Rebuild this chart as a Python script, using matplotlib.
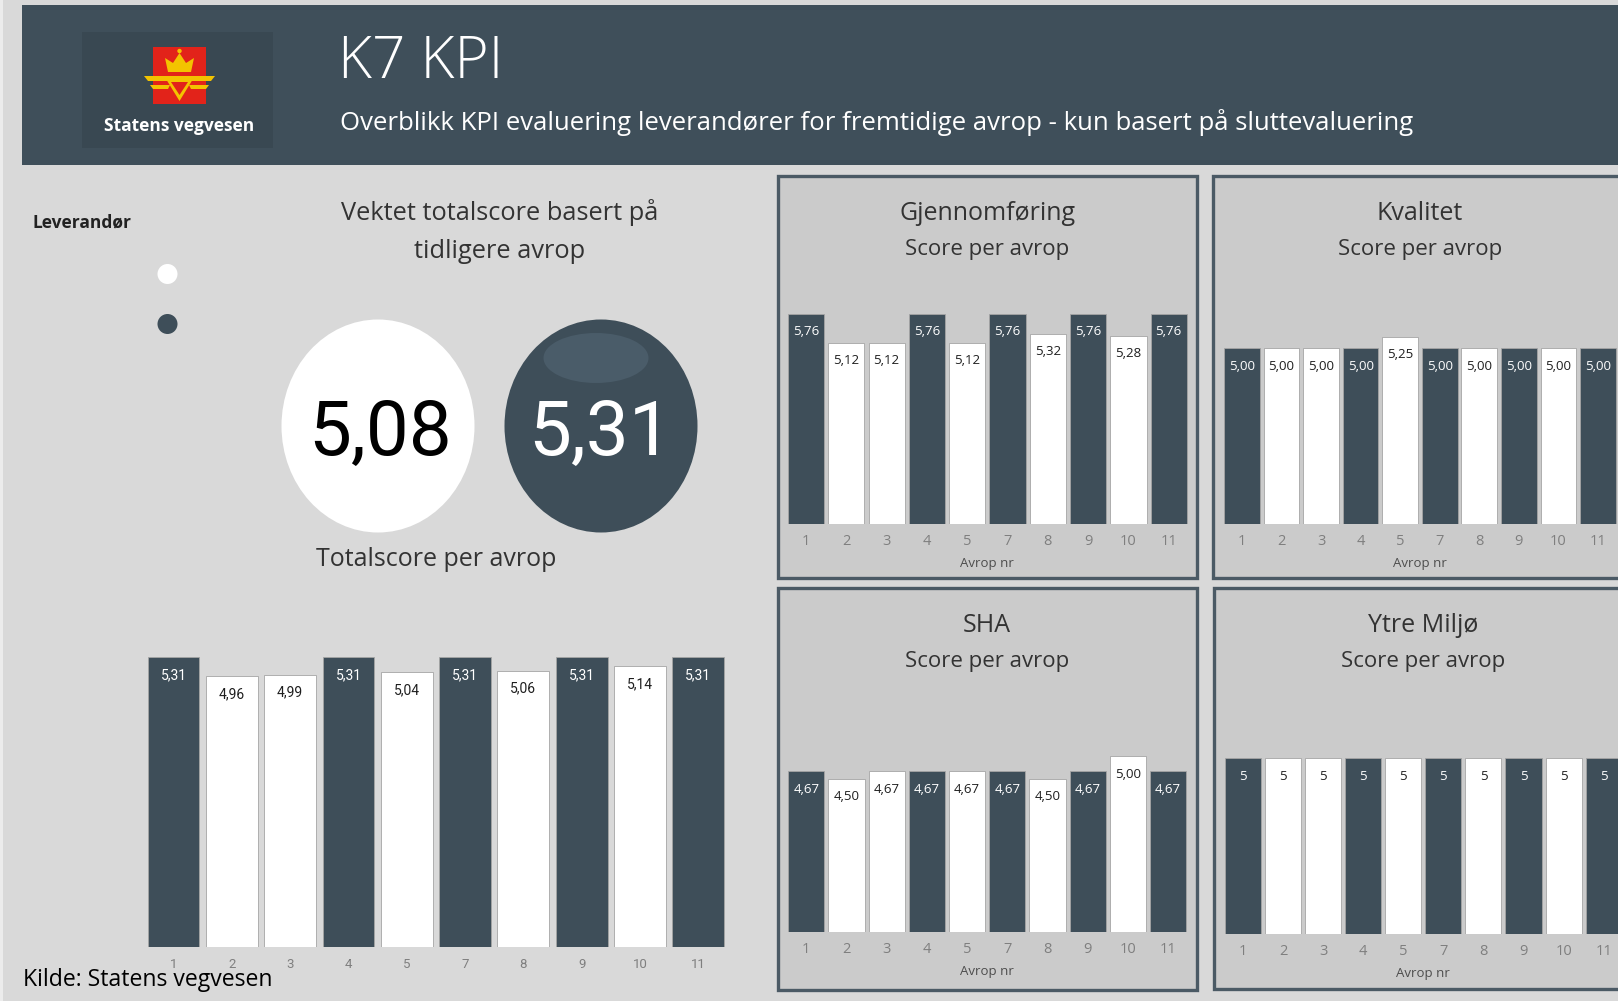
import matplotlib.pyplot as plt
from matplotlib.patches import Circle, Ellipse, Polygon, Rectangle

W, H = 1618, 1001

AVROP = ["1", "2", "3", "4", "5", "7", "8", "9", "10", "11"]
# 1 = mørk leverandør, 0 = hvit leverandør
LEVERANDOR = [1, 0, 0, 1, 0, 1, 0, 1, 0, 1]
TOTALSCORE = [5.31, 4.96, 4.99, 5.31, 5.04, 5.31, 5.06, 5.31, 5.14, 5.31]
GJENNOMFORING = [5.76, 5.12, 5.12, 5.76, 5.12, 5.76, 5.32, 5.76, 5.28, 5.76]
KVALITET = [5.00, 5.00, 5.00, 5.00, 5.25, 5.00, 5.00, 5.00, 5.00, 5.00]
SHA = [4.67, 4.50, 4.67, 4.67, 4.67, 4.67, 4.50, 4.67, 5.00, 4.67]
YTRE_MILJO = [5, 5, 5, 5, 5, 5, 5, 5, 5, 5]
VEKTET = [5.08, 5.31]

BG = "#d9d9d9"
PANEL_BG = "#cbcbcb"
DARK = "#3e4e59"
FRAME = "#4b5a65"
TITLE_C = "#333333"
UI_FONT = ["Open Sans", "DejaVu Sans"]
NARROW = ["Liberation Sans Narrow", "Roboto", "DejaVu Sans"]


def nor(v, dec):
    return f"{v:.{dec}f}".replace(".", ",")


def px_axes(fig, x0, y0, x1, y1):
    return fig.add_axes([x0 / W, 1 - y1 / H, (x1 - x0) / W, (y1 - y0) / H])


def draw_bars(ax, values, dec, ybase, px_unit, h_px, lab_font, lab_size,
              tick_font, tick_size, width, pad):
    x = list(range(len(values)))
    colors = [DARK if s else "white" for s in LEVERANDOR]
    ax.bar(x, values, width=width, color=colors, edgecolor="#a5a5a5",
           linewidth=0.6, zorder=2)
    ax.set_xlim(-0.5, len(values) - 0.5)
    ax.set_ylim(ybase, ybase + h_px / px_unit)
    for xi, v, s in zip(x, values, LEVERANDOR):
        ax.annotate(nor(v, dec), (xi, v), xytext=(0, -13),
                    textcoords="offset points", ha="center", va="center",
                    color="white" if s else "#1e1e1e", fontsize=lab_size,
                    family=lab_font, zorder=3)
    ax.set_xticks(x, AVROP, family=tick_font)
    ax.tick_params(axis="x", length=0, pad=pad, labelsize=tick_size,
                   labelcolor="#7f7f7f")
    ax.set_yticks([])
    for sp in ax.spines.values():
        sp.set_visible(False)
    ax.patch.set_alpha(0)


def draw_logo(bg):
    bg.add_patch(Rectangle((82, 32), 191, 116, fc="#394852", ec="none"))
    bg.add_patch(Rectangle((153, 47), 53, 57, fc="#e2231a", ec="none"))
    gold = "#f3c300"
    # krone
    bg.add_patch(Polygon([(168, 72), (191, 72), (194, 58), (186, 63),
                          (179.5, 53), (173, 63), (165, 58)], fc=gold, ec="none"))
    bg.add_patch(Circle((179.5, 51), 2.2, fc=gold, ec="none"))
    # vinger
    bg.add_patch(Polygon([(144, 76), (215, 76), (211, 81), (148, 81)],
                         fc=gold, ec="none"))
    bg.add_patch(Polygon([(150, 85), (170, 85), (168, 89), (153, 89)],
                         fc=gold, ec="none"))
    bg.add_patch(Polygon([(189, 85), (209, 85), (206, 89), (191, 89)],
                         fc=gold, ec="none"))
    # trekant
    bg.add_patch(Polygon([(166, 79), (193, 79), (179.5, 101)], fc=gold, ec="none"))
    bg.add_patch(Polygon([(171, 82), (188, 82), (179.5, 95)], fc="#e2231a", ec="none"))
    bg.text(179, 126, "Statens vegvesen", color="white", fontsize=12.5,
            fontweight="bold", family=UI_FONT, ha="center", va="center")


def main():
    fig = plt.figure(figsize=(W / 100, H / 100), dpi=100, facecolor=BG)

    bg = fig.add_axes([0, 0, 1, 1])
    bg.set_xlim(0, W)
    bg.set_ylim(H, 0)
    bg.axis("off")
    bg.add_patch(Rectangle((0, 0), 3, H, fc="#ececec", ec="none"))

    # topptekst
    bg.add_patch(Rectangle((22, 5), W, 160, fc="#3f4f5a", ec="none"))
    draw_logo(bg)
    bg.text(338, 62, "K7 KPI", color="white", fontsize=42, fontweight="light",
            family=UI_FONT, ha="left", va="center")
    bg.text(340, 122,
            "Overblikk KPI evaluering leverandører for fremtidige avrop - kun basert på sluttevaluering",
            color="white", fontsize=18.5, family=UI_FONT, ha="left", va="center")

    # leverandør-forklaring
    bg.text(32, 222, "Leverandør", color="#222222", fontsize=12.5,
            fontweight="bold", family=UI_FONT, ha="left", va="center")
    bg.add_patch(Circle((167.5, 274), 10, fc="white", ec="none"))
    bg.add_patch(Circle((167.5, 324), 10, fc=DARK, ec="none"))

    # vektet totalscore
    bg.text(500, 212, "Vektet totalscore basert på", color=TITLE_C,
            fontsize=18.3, family=UI_FONT, ha="center", va="center")
    bg.text(500, 251, "tidligere avrop", color=TITLE_C,
            fontsize=18.3, family=UI_FONT, ha="center", va="center")
    bg.add_patch(Ellipse((378, 426), 193, 213, fc="white", ec="none"))
    bg.add_patch(Ellipse((601, 426), 193, 213, fc=DARK, ec="none"))
    bg.add_patch(Ellipse((596, 358), 105, 50, fc="#4a5c69", ec="none"))
    bg.text(380, 434, nor(VEKTET[0], 2), color="black", fontsize=55,
            family=NARROW, ha="center", va="center")
    bg.text(600, 434, nor(VEKTET[1], 2), color="white", fontsize=55,
            family=NARROW, ha="center", va="center")
    bg.text(436, 560, "Totalscore per avrop", color=TITLE_C, fontsize=18,
            family=UI_FONT, ha="center", va="center")

    ax_tot = px_axes(fig, 144.4, 600, 727.4, 946.5)
    draw_bars(ax_tot, TOTALSCORE, 2, 0.0, 54.5, 346.5, NARROW, 10,
              NARROW, 9.5, 0.89, 8)

    # KPI-paneler
    panels = [
        ("Gjennomføring", GJENNOMFORING, 2, (778, 176, 1197, 578),
         (785.9, 1188.9, 524), 563),
        ("Kvalitet", KVALITET, 2, (1213, 176, 1650, 578),
         (1222.2, 1617.7, 524), 563),
        ("SHA", SHA, 2, (778, 588, 1197, 990),
         (786.2, 1188.2, 932), 972),
        ("Ytre Miljø", YTRE_MILJO, 0, (1214, 588, 1650, 989),
         (1223.0, 1623.7, 934), 973),
    ]
    for title, values, dec, frame, axbox, lab_y in panels:
        fx0, fy0, fx1, fy1 = frame
        bg.add_patch(Rectangle((fx0, fy0), fx1 - fx0, fy1 - fy0, fc=PANEL_BG,
                               ec=FRAME, lw=2.4))
        ax0, ax1, base = axbox
        cx = (ax0 + ax1) / 2
        bg.text(cx, fy0 + 37, title, color=TITLE_C, fontsize=18,
                family=UI_FONT, ha="center", va="center")
        bg.text(cx, fy0 + 74, "Score per avrop", color=TITLE_C, fontsize=16,
                family=UI_FONT, ha="center", va="center")
        bg.text(cx, lab_y, "Avrop nr", color="#4d4d4d", fontsize=9.5,
                family=UI_FONT, ha="center", va="center")
        ax = px_axes(fig, ax0, base - 240, ax1, base)
        draw_bars(ax, values, dec, 1.12, 45.3, 240, UI_FONT, 9.5,
                  UI_FONT, 10.5, 0.9, 7.5)

    bg.text(23, 980, "Kilde: Statens vegvesen", color="black", fontsize=16.6,
            family=UI_FONT, ha="left", va="center")

    fig.savefig("out.png", dpi=100, facecolor=BG)


if __name__ == "__main__":
    main()
